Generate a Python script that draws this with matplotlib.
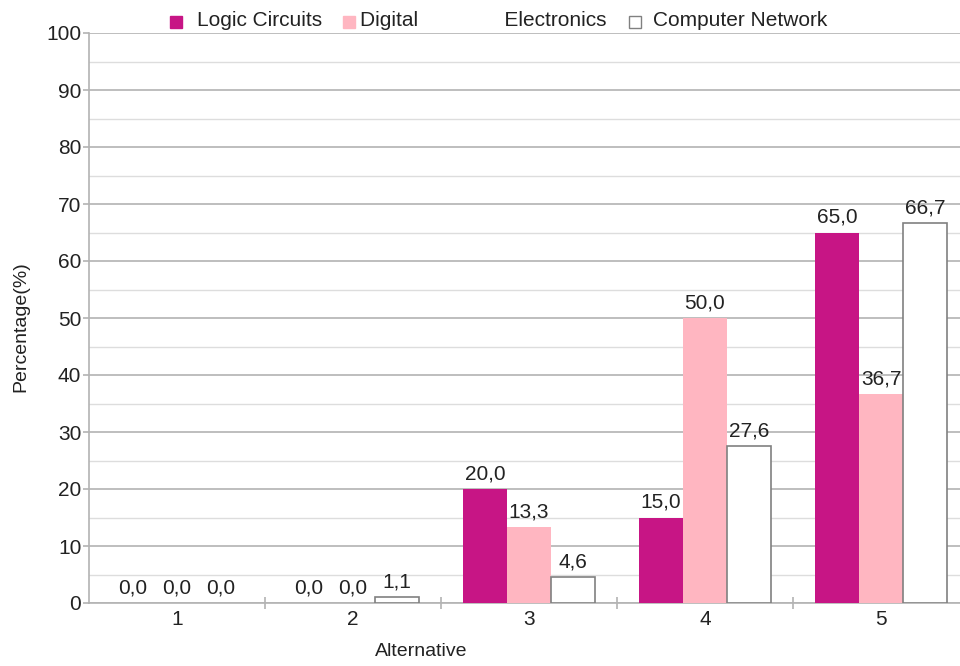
import matplotlib.pyplot as plt
from matplotlib.patches import Rectangle
from matplotlib.ticker import MultipleLocator

plt.rcParams["font.family"] = ["Liberation Sans", "DejaVu Sans"]

categories = ["1", "2", "3", "4", "5"]
series_names = ["Logic Circuits", "Digital Electronics", "Computer Network"]
logic_circuits = [0.0, 0.0, 20.0, 15.0, 65.0]
digital_electronics = [0.0, 0.0, 13.3, 50.0, 36.7]
computer_network = [0.0, 1.1, 4.6, 27.6, 66.7]

colors = ["#c71585", "#ffb6c1", "#ffffff"]
edges = ["#c71585", "#ffb6c1", "#808080"]

W, H = 960, 666
fig = plt.figure(figsize=(W / 100, H / 100), dpi=100)


def px(x0, y0, x1, y1):
    # pixel box (top-left origin) -> figure fraction rect
    return [x0 / W, 1 - y1 / H, (x1 - x0) / W, (y1 - y0) / H]


ax = fig.add_axes(px(89, 33, 969, 603))
ax.set_xlim(-0.5, 4.5)
ax.set_ylim(0, 100)

width = 0.25
txt_color = "#222222"
for i, (vals, c, ec) in enumerate(zip([logic_circuits, digital_electronics, computer_network], colors, edges)):
    xs = [k + (i - 1) * width for k in range(len(categories))]
    lws = [1.2 if (c == "#ffffff" and v > 0) else 0 for v in vals]
    bars = ax.bar(xs, vals, width, color=c, edgecolor=ec, linewidth=lws, zorder=3)
    for b, v in zip(bars, vals):
        ax.annotate(f"{v:.1f}".replace(".", ","), (b.get_x() + b.get_width() / 2, v),
                    xytext=(0, 4), textcoords="offset points", ha="center", va="bottom",
                    fontsize=15, color=txt_color, zorder=4)

ax.yaxis.set_major_locator(MultipleLocator(10))
ax.yaxis.set_minor_locator(MultipleLocator(5))
ax.grid(which="major", axis="y", color="#b3b3b3", lw=1.2, zorder=0)
ax.grid(which="minor", axis="y", color="#dddddd", lw=1.0, zorder=0)
ax.tick_params(axis="y", which="major", length=4.5, width=1.2, color="#b3b3b3",
               pad=1, labelsize=15, labelcolor=txt_color)
ax.tick_params(axis="y", which="minor", length=0)

ax.set_xticks(range(len(categories)))
ax.set_xticklabels(categories)
ax.set_xticks([k + 0.5 for k in range(len(categories) - 1)], minor=True)
ax.tick_params(axis="x", which="major", length=0, pad=5, labelsize=15, labelcolor=txt_color)
ax.tick_params(axis="x", which="minor", direction="inout", length=9, width=1.2, color="#b3b3b3")

for s in ["top", "right"]:
    ax.spines[s].set_visible(False)
for s in ["left", "bottom"]:
    ax.spines[s].set_color("#b3b3b3")
    ax.spines[s].set_linewidth(1.2)

fig.text(21 / W, 1 - 327 / H, "Percentage(%)", rotation=90, ha="center", va="center",
         fontsize=14, color=txt_color)
fig.text(421 / W, 1 - 652 / H, "Alternative", ha="center", va="center",
         fontsize=14, color=txt_color)

# legend along the top
legend_items = [
    (170, 197, series_names[0]),
    (343, 360, "Digital" + " " * 15 + "Electronics"),
    (629, 653, series_names[2]),
]
for (sx, tx, label), c, ec in zip(legend_items, colors, edges):
    fig.add_artist(Rectangle((sx / W, 1 - 28 / H), 12 / W, 12 / H, transform=fig.transFigure,
                             facecolor=c, edgecolor=ec, lw=1.0))
    fig.text(tx / W, 1 - 21 / H, label, ha="left", va="center", fontsize=15, color=txt_color)

fig.savefig("out.png", dpi=100)
